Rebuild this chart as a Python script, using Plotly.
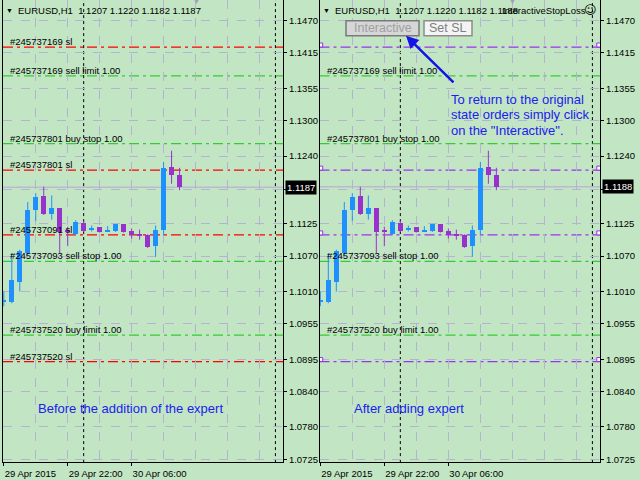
import plotly.graph_objects as go

# Hourly EURUSD candles, 29 Apr 2015 14:00 onwards (bar index = hour offset)
bars = list(range(23))
opens = [1.0993, 1.0992, 1.1026, 1.1076, 1.1148, 1.1173, 1.1142, 1.1151, 1.1113, 1.1108, 1.1127, 1.1116,
         1.1119, 1.1112, 1.1112, 1.1124, 1.1113, 1.1106, 1.1106, 1.1088, 1.1114, 1.1221, 1.1207]
highs = [1.1010, 1.1075, 1.1081, 1.1162, 1.1177, 1.1188, 1.1173, 1.1151, 1.1120, 1.1131, 1.1130, 1.1122,
         1.1119, 1.1121, 1.1124, 1.1124, 1.1117, 1.1115, 1.1107, 1.1122, 1.1230, 1.1249, 1.1220]
lows = [1.0985, 1.0990, 1.1010, 1.1072, 1.1130, 1.1140, 1.1132, 1.1075, 1.1087, 1.1106, 1.1111, 1.1112,
        1.1110, 1.1112, 1.1111, 1.1110, 1.1100, 1.1098, 1.1084, 1.1069, 1.1105, 1.1193, 1.1182]
closes = [1.0994, 1.1029, 1.1078, 1.1148, 1.1170, 1.1142, 1.1151, 1.1111, 1.1112, 1.1128, 1.1112, 1.1118,
          1.1111, 1.1114, 1.1124, 1.1111, 1.1106, 1.1105, 1.1086, 1.1114, 1.1220, 1.1207, 1.1187]
bid_right = 1.1188          # right screenshot was taken one tick later
closes_right = closes[:-1] + [bid_right]

price_ticks = [1.1470, 1.1415, 1.1355, 1.1300, 1.1240, 1.1183, 1.1125, 1.1070, 1.1010,
               1.0955, 1.0895, 1.0840, 1.0780, 1.0725]
price_tick_text = ["1.1470", "1.1415", "1.1355", "1.1300", "1.1240", "", "1.1125", "1.1070", "1.1010",
                   "1.0955", "1.0895", "1.0840", "1.0780", "1.0725"]
grid_bars = [4, 8, 12, 16, 20, 24, 28, 32]
time_tick_bars = [0, 8, 16]
time_tick_text = ["29 Apr 2015", "29 Apr 22:00", "30 Apr 06:00"]
day_separators = [10, 34]

# order lines
sl_labels = ["#245737169 sl", "#245737801 sl", "#245737091 sl", "#245737520 sl"]
sl_prices = [1.1425, 1.1216, 1.1106, 1.0891]
pending_labels = ["#245737169 sell limit 1.00", "#245737801 buy stop 1.00",
                  "#245737093 sell stop 1.00", "#245737520 buy limit 1.00"]
pending_prices = [1.1376, 1.1261, 1.1061, 1.0936]

note_lines = ["To return to the original", "state orders simply click", 'on the "Interactive".']

W, H = 640, 480
BG = "#C2E6C3"
GRID = "#B4B4D2"
BULL = "#1E90FF"
BEAR = "#9932CC"
RED = "#FF0000"
GREEN = "#32CD32"
PURPLE = "#9B30F0"
TEXT_BLUE = "#2020F0"
MT_FONT = "Liberation Sans"
DASHDOT = "10px,4px,3px,4px"

x_range = [-0.1, 34.95]
y_range = [1.07204, 1.15049]
MIN_BODY = 0.00017   # roughly one pixel, so doji candles stay visible


def px(x):
    return x / W


def py(y):
    return 1 - y / H


def add_candles(close_vals, xa, ya):
    up = [c >= o for o, c in zip(opens, close_vals)]
    colors = [BULL if u else BEAR for u in up]
    # wicks, one trace per colour
    for flag, col in ((True, BULL), (False, BEAR)):
        wx, wy = [], []
        for b, h, l, u in zip(bars, highs, lows, up):
            if u == flag:
                wx += [b, b, None]
                wy += [l, h, None]
        fig.add_trace(go.Scatter(x=wx, y=wy, mode="lines", line=dict(color=col, width=1),
                                 xaxis=xa, yaxis=ya, showlegend=False, hoverinfo="skip"))
    # bodies
    fig.add_trace(go.Bar(
        x=bars, base=[min(o, c) for o, c in zip(opens, close_vals)],
        y=[max(abs(c - o), MIN_BODY) for o, c in zip(opens, close_vals)],
        width=0.6, marker=dict(color=colors, line=dict(width=0)),
        xaxis=xa, yaxis=ya, showlegend=False, hoverinfo="skip"))


def x_axis(domain, anchor):
    return dict(domain=domain, range=x_range, anchor=anchor, showline=True, linecolor="black", linewidth=1,
                tickvals=time_tick_bars, ticktext=time_tick_text, ticks="outside", ticklen=3,
                tickcolor="black", ticklabelposition="outside right", ticklabelstandoff=3,
                tickfont=dict(family=MT_FONT, size=9.5, color="black"),
                showgrid=True, gridcolor=GRID, griddash="dash", gridwidth=1,
                minor=dict(tickvals=grid_bars, showgrid=True, gridcolor=GRID, griddash="dash", ticks=""),
                zeroline=False, fixedrange=True)


def y_axis(domain, anchor):
    return dict(domain=domain, range=y_range, anchor=anchor, side="right", showline=True, mirror=True,
                linecolor="black", linewidth=1, tickvals=price_ticks, ticktext=price_tick_text,
                ticks="outside", ticklen=3, tickcolor="black",
                tickfont=dict(family=MT_FONT, size=9.5, color="black"),
                showgrid=True, gridcolor=GRID, griddash="dash", gridwidth=1,
                zeroline=False, fixedrange=True)


fig = go.Figure()
add_candles(closes, "x", "y")
add_candles(closes_right, "x2", "y2")

shapes = []
annotations = []


def hline(xa, ya, price, color, dash="solid", width=1):
    shapes.append(dict(type="line", xref=f"{xa} domain", x0=0, x1=1, yref=ya, y0=price, y1=price,
                       line=dict(color=color, width=width, dash=dash), layer="below"))


def text(x, y, s, size=9.5, color="black", anchor="left", family=MT_FONT, yref="paper", **kw):
    annotations.append(dict(x=x, y=y, xref="paper", yref=yref, text=s, showarrow=False,
                            xanchor=anchor, font=dict(family=family, size=size, color=color), **kw))


panels = [("x", "y", closes[-1], 3, RED, True), ("x2", "y2", bid_right, 319.5, PURPLE, False)]
for xa, ya, bid, left, sl_color, sl_text in panels:
    hline(xa, ya, bid, "#B9B9CF", width=1.5)
    for b in day_separators:
        shapes.append(dict(type="line", xref=xa, x0=b, x1=b, yref=f"{ya} domain", y0=0, y1=1,
                           line=dict(color="black", width=1, dash="3px,3px"), layer="below"))
    for lbl, p in zip(pending_labels, pending_prices):
        hline(xa, ya, p, GREEN, DASHDOT, 1.2)
        text(px(left + 5), p, lbl, yref=ya, yanchor="bottom", yshift=-2)
    for lbl, p in zip(sl_labels, sl_prices):
        hline(xa, ya, p, sl_color, DASHDOT, 1.2)
        if sl_text:
            text(px(left + 5), p, lbl, yref=ya, yanchor="bottom", yshift=-2)
    # bid price box on the price scale
    text(px(left + 282), bid, f"{bid:.4f}", color="white", yref=ya, bgcolor="black",
         borderpad=1, yanchor="middle")
    # chart header
    text(px(left + 6.5), py(10.5), "▼", size=7, anchor="center", yanchor="middle")
    hdr = f"EURUSD,H1\u00a0\u00a0{opens[-1]:.4f} {highs[-1]:.4f} {lows[-1]:.4f} {bid:.4f}"
    text(px(left + 13), py(10.5), hdr, yanchor="middle")
    text(px(left + 193), py(2), "▼", size=7, color="#A0A0B8", anchor="center", yanchor="middle")

# little end brackets on the expert's purple lines
fig.add_trace(go.Scatter(x=[x_range[0] + 0.15] * len(sl_prices) + [x_range[1] - 0.15] * len(sl_prices),
                         y=[p + 0.00035 for p in sl_prices] * 2, mode="markers", xaxis="x2", yaxis="y2",
                         marker=dict(symbol="square", size=4, color="white", line=dict(color=PURPLE, width=1)),
                         showlegend=False, hoverinfo="skip"))

# expert panel extras
text(px(500), py(10.5), "InteractiveStopLoss", yanchor="middle")
text(px(590), py(10.5), "☺", size=12, anchor="center", yanchor="middle", family="DejaVu Sans")
shapes.append(dict(type="rect", xref="paper", yref="paper", x0=px(346), x1=px(419), y0=py(36), y1=py(21),
                   fillcolor="#D6D6D6", line=dict(color="#7A7A7A", width=1.5)))
shapes.append(dict(type="rect", xref="paper", yref="paper", x0=px(424), x1=px(472), y0=py(36), y1=py(21),
                   fillcolor="#F4F4F4", line=dict(color="#8C8C8C", width=1.5)))
text(px(382.5), py(28.5), "Interactive", size=12.5, color="#A0A0A0", anchor="center", yanchor="middle")
text(px(448), py(28.5), "Set SL", size=12.5, color="#808080", anchor="center", yanchor="middle")
annotations.append(dict(x=px(406), y=py(36), xref="paper", yref="paper", ax=49, ay=48, text="",
                        showarrow=True, arrowhead=2, arrowsize=1, arrowwidth=2.5, arrowcolor="#1414E6"))
for i, line in enumerate(note_lines):
    text(px(449), py(100 + i * 15.7), line, size=13, color=TEXT_BLUE, yanchor="middle")

text(px(36), py(411), "Before the addition of the expert", size=13, color=TEXT_BLUE, yanchor="middle")
text(px(352), py(411), "After adding expert", size=13, color=TEXT_BLUE, yanchor="middle")

y_dom = [1 - 465 / H, 1]
fig.update_layout(
    width=W, height=H, margin=dict(l=0, r=0, t=0, b=0),
    paper_bgcolor=BG, plot_bgcolor=BG, showlegend=False, bargap=0,
    xaxis=x_axis([px(3), px(283)], "y"), yaxis=y_axis(y_dom, "x"),
    xaxis2=x_axis([px(319.5), px(600)], "y2"), yaxis2=y_axis(y_dom, "x2"),
    shapes=shapes, annotations=annotations,
)

# drop the page's default body margin so the 640x480 figure fills the window
fig.write_html("out.html", config={"displayModeBar": False},
               post_script="document.body.style.margin='0';document.body.style.overflow='hidden';")
